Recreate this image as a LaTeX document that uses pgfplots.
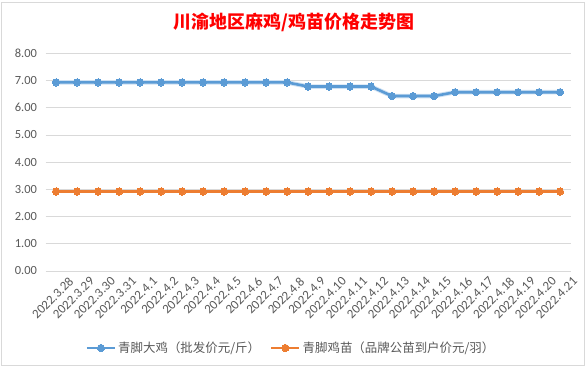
\documentclass[border=0pt]{standalone}
\usepackage{pgfplots}
\pgfplotsset{compat=1.18}
\usepackage{fontspec}
\setmainfont{Carlito}
\newfontfamily\cjk{Noto Sans CJK SC}
\definecolor{blueS}{HTML}{5B9BD5}
\definecolor{orangeS}{HTML}{ED7D31}
\definecolor{txt}{HTML}{595959}
\definecolor{gridc}{HTML}{D9D9D9}
\begin{document}
\begin{tikzpicture}[x=1bp,y=1bp]
\fill[white] (0,0) rectangle (588,369);
\path[use as bounding box] (0,0) rectangle (588,369);
\draw[gridc, line width=0.75bp] (1,4) rectangle (584,367);
\node[text=red, font=\cjk\bfseries\fontsize{18}{20}\selectfont] at (294,347) {川渝地区麻鸡/鸡苗价格走势图};
\begin{axis}[
  at={(45.5bp,98bp)}, anchor=south west,
  scale only axis, width=525bp, height=217.7bp,
  xmin=-0.5, xmax=24.5, ymin=0, ymax=8,
  ytick={0,1,...,8},
  ymajorgrids, grid style={gridc, line width=0.75bp},
  axis line style={draw=none}, major tick length=0pt,
  /pgf/number format/assume math mode=true,
  yticklabel style={/pgf/number format/.cd, fixed, fixed zerofill, precision=2, /tikz/.cd, text=txt, font=\fontsize{12.5}{14}\selectfont, xshift=-5bp},
  xtick={0,...,24},
  xticklabels={2022.3.28,2022.3.29,2022.3.30,2022.3.31,2022.4.1,2022.4.2,2022.4.3,2022.4.4,2022.4.5,2022.4.6,2022.4.7,2022.4.8,2022.4.9,2022.4.10,2022.4.11,2022.4.12,2022.4.13,2022.4.14,2022.4.15,2022.4.16,2022.4.17,2022.4.18,2022.4.19,2022.4.20,2022.4.21},
  xticklabel style={rotate=45, anchor=north east, text=txt, font=\fontsize{13}{14}\selectfont, inner sep=1bp, xshift=6bp, yshift=-11bp},
  legend columns=2,
  legend style={at={(0.4676,-0.3537)}, anchor=center, draw=none, fill=none, text=txt, font=\cjk\fontsize{12.5}{14}\selectfont, /tikz/every even column/.append style={column sep=8bp}},
  legend image code/.code={\draw[#1, mark repeat=2, mark phase=2] plot coordinates {(0bp,0bp) (14bp,0bp) (28bp,0bp)};},
  clip=false,
]
\addplot[blueS!30, line width=4.5bp, forget plot] coordinates {
(0,6.93)(1,6.93)(2,6.93)(3,6.93)(4,6.93)(5,6.93)(6,6.93)(7,6.93)(8,6.93)(9,6.93)(10,6.93)(11,6.93)
(12,6.78)(13,6.78)(14,6.78)(15,6.78)(16,6.43)(17,6.43)(18,6.43)
(19,6.57)(20,6.57)(21,6.57)(22,6.57)(23,6.57)(24,6.57)};
\addplot[blueS, line width=2.6bp, mark=*, mark size=3.6bp, mark options={fill=blueS, draw=blueS, line width=0bp}] coordinates {
(0,6.93)(1,6.93)(2,6.93)(3,6.93)(4,6.93)(5,6.93)(6,6.93)(7,6.93)(8,6.93)(9,6.93)(10,6.93)(11,6.93)
(12,6.78)(13,6.78)(14,6.78)(15,6.78)(16,6.43)(17,6.43)(18,6.43)
(19,6.57)(20,6.57)(21,6.57)(22,6.57)(23,6.57)(24,6.57)};
\addlegendentry{青脚大鸡（批发价元/斤）}
\addplot[orangeS, line width=2.6bp, mark=*, mark size=3.6bp, mark options={fill=orangeS, draw=orangeS, line width=0bp}] coordinates {
(0,2.92)(1,2.92)(2,2.92)(3,2.92)(4,2.92)(5,2.92)(6,2.92)(7,2.92)(8,2.92)(9,2.92)(10,2.92)(11,2.92)
(12,2.92)(13,2.92)(14,2.92)(15,2.92)(16,2.92)(17,2.92)(18,2.92)
(19,2.92)(20,2.92)(21,2.92)(22,2.92)(23,2.92)(24,2.92)};
\addlegendentry{青脚鸡苗（品牌公苗到户价元/羽）}
\end{axis}
\end{tikzpicture}
\end{document}
